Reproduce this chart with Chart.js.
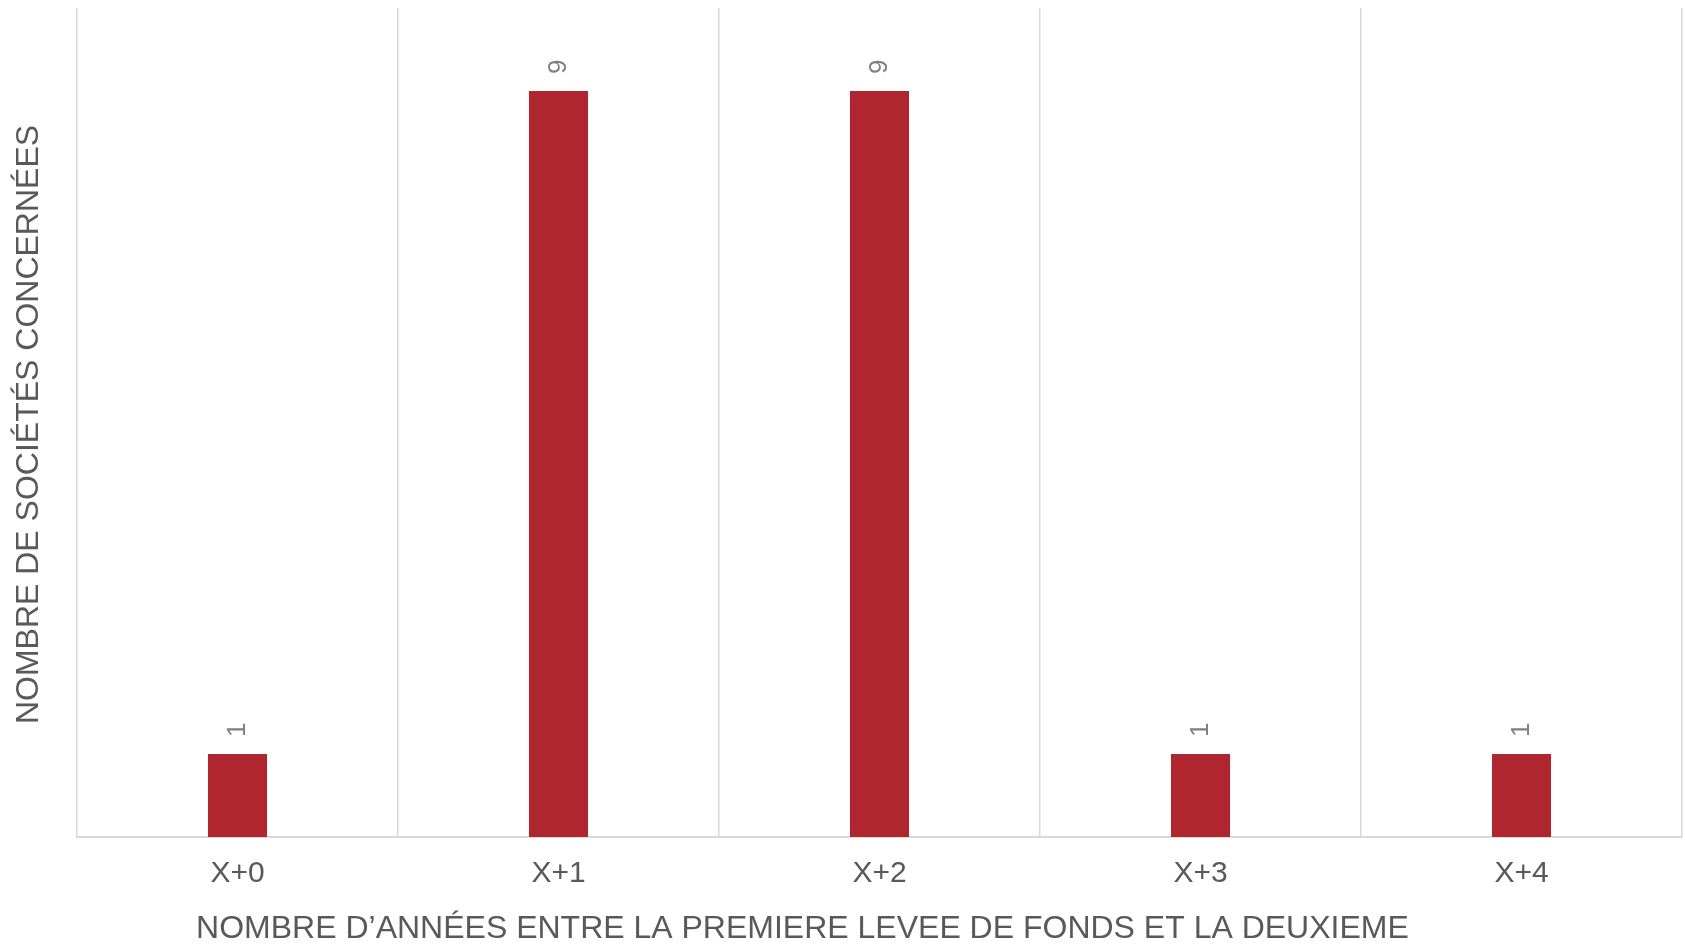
<!DOCTYPE html>
<html>
<head>
<meta charset="utf-8">
<script src="https://cdn.jsdelivr.net/npm/chart.js@4.4.1/dist/chart.umd.min.js"></script>
<style>
  html, body { margin: 0; padding: 0; background: #ffffff; }
  #wrap { width: 1685px; height: 946px; position: relative; }
</style>
</head>
<body>
<div id="wrap"><canvas id="c"></canvas></div>
<script>
const categories = ["X+0", "X+1", "X+2", "X+3", "X+4"];
const values = [1, 9, 9, 1, 1];
const yTitle = "NOMBRE DE SOCIÉTÉS CONCERNÉES";
const xTitle = "NOMBRE D\u2019ANNÉES ENTRE LA PREMIERE LEVEE DE FONDS ET LA DEUXIEME";

const FONT = "'Liberation Sans', Arial, sans-serif";

const annotations = {
  id: 'annotations',
  afterDatasetsDraw(chart) {
    const ctx = chart.ctx;
    const meta = chart.getDatasetMeta(0);
    ctx.save();
    ctx.fillStyle = '#7f7f7f';
    ctx.font = "26px " + FONT;
    meta.data.forEach((bar, i) => {
      ctx.save();
      ctx.translate(bar.x, bar.y - 17);
      ctx.rotate(-Math.PI / 2);
      ctx.textAlign = 'left';
      ctx.textBaseline = 'middle';
      ctx.fillText(String(values[i]), 0, 0);
      ctx.restore();
    });
    ctx.restore();
  },
  afterDraw(chart) {
    const ctx = chart.ctx;
    const a = chart.chartArea;
    ctx.save();
    ctx.fillStyle = '#595959';
    ctx.font = "32px " + FONT;
    // y title
    ctx.save();
    ctx.translate(29, (a.top + a.bottom) / 2 + 2);
    ctx.rotate(-Math.PI / 2);
    ctx.textAlign = 'center';
    ctx.textBaseline = 'middle';
    ctx.fillText(yTitle, 0, 0);
    ctx.restore();
    // x title
    ctx.textAlign = 'center';
    ctx.textBaseline = 'middle';
    ctx.fillText(xTitle, a.left + (a.right - a.left) * 0.452, a.bottom + 92);
    ctx.restore();
  }
};

new Chart(document.getElementById('c'), {
  type: 'bar',
  data: {
    labels: categories,
    datasets: [{
      data: values,
      backgroundColor: '#B0262F',
      borderWidth: 0,
      categoryPercentage: 1,
      barPercentage: 0.184
    }]
  },
  options: {
    responsive: true,
    maintainAspectRatio: false,
    animation: false,
    layout: { padding: { left: 77, right: 3, top: 8, bottom: 0 } },
    plugins: { legend: { display: false }, tooltip: { enabled: false }, title: { display: false } },
    scales: {
      y: { display: false, min: 0, max: 10 },
      x: {
        grid: { offset: true, color: '#d9d9d9', lineWidth: 1.5, drawTicks: false },
        border: { display: true, color: '#d9d9d9', width: 2 },
        ticks: { color: '#595959', font: { family: FONT, size: 30 }, padding: 19 },
        afterFit(s) { s.height = 109; }
      }
    }
  },
  plugins: [annotations]
});
</script>
</body>
</html>
